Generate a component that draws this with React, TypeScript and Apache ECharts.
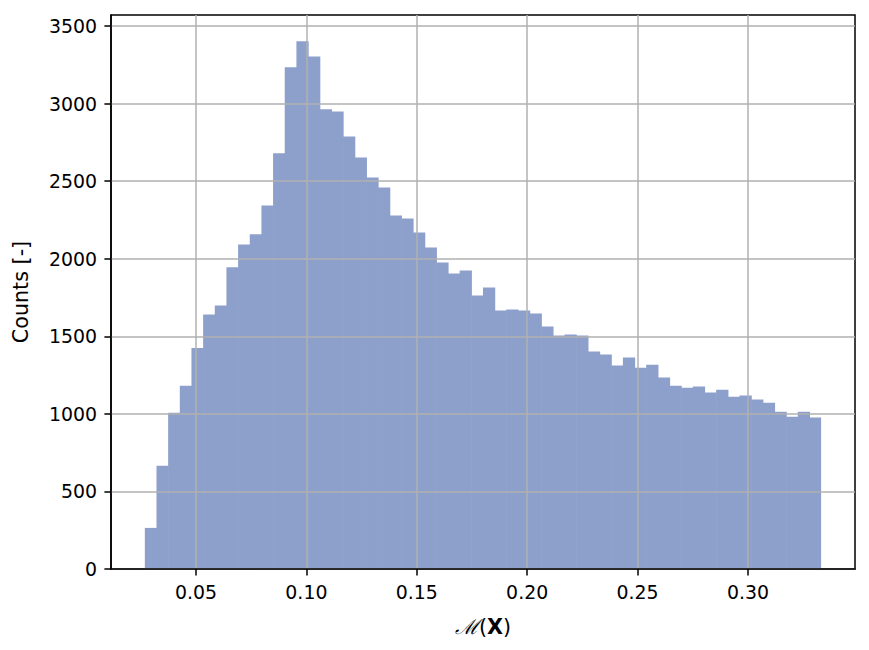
import React, { useEffect, useRef } from "react";
import * as echarts from "echarts";

// Histogram counts per bin (58 equal-width bins)
const counts: number[] = [
  265, 666, 1007, 1182, 1424, 1641, 1698, 1945, 2092, 2157,
  2343, 2680, 3235, 3401, 3304, 2963, 2949, 2788, 2652, 2523,
  2459, 2279, 2259, 2169, 2072, 1975, 1905, 1924, 1763, 1814,
  1666, 1672, 1666, 1647, 1563, 1505, 1511, 1505, 1402, 1382,
  1311, 1363, 1298, 1317, 1234, 1182, 1169, 1176, 1137, 1156,
  1111, 1118, 1092, 1072, 1014, 982, 1014, 976,
];
const binStart = 0.02682;
const binEnd = 0.33315;

const xTicks: number[] = [0.05, 0.1, 0.15, 0.2, 0.25, 0.3];
const yTicks: number[] = [0, 500, 1000, 1500, 2000, 2500, 3000, 3500];
const xRange: number[] = [0.0115, 0.3485];
const yRange: number[] = [0, 3571];

const xLabel = "{m|ℳ}{p|(}{b|X}{p|)}";
const yLabel = "Counts [-]";

const BAR_COLOR = "#8da0cb";
const FONT = "DejaVu Sans";
const FS = 18.9;
const FS_NAME = 20.7;

export default function App() {
  const ref = useRef<HTMLDivElement>(null);
  useEffect(() => {
    if (!ref.current) return;
    const chart = echarts.init(ref.current, null, { renderer: "svg" });
    const w = (binEnd - binStart) / counts.length;
    const data = counts.map((c, i) => [binStart + i * w, binStart + (i + 1) * w, c]);
    chart.setOption({
      animation: false,
      backgroundColor: "#ffffff",
      textStyle: { fontFamily: FONT },
      grid: {
        left: 111,
        right: 14,
        top: 15,
        bottom: 81,
        show: true,
        borderColor: "#000",
        borderWidth: 1.5,
        backgroundColor: "transparent",
      },
      xAxis: {
        type: "value",
        min: xRange[0],
        max: xRange[1],
        z: 5,
        name: xLabel,
        nameLocation: "middle",
        nameGap: 47,
        nameTextStyle: {
          color: "#000",
          fontSize: FS_NAME,
          fontFamily: FONT,
          rich: {
            m: { fontFamily: "DejaVu Serif", fontSize: FS_NAME, fontStyle: "italic", color: "#000" },
            p: { fontFamily: FONT, fontSize: FS_NAME, color: "#000" },
            b: { fontFamily: FONT, fontSize: FS_NAME, fontWeight: "bold", color: "#000" },
          },
        },
        axisLine: { show: true, onZero: false, lineStyle: { color: "#000", width: 1.5 } },
        axisTick: { show: true, length: 6.6, customValues: xTicks, lineStyle: { color: "#000", width: 1.5 } },
        axisLabel: {
          customValues: xTicks,
          margin: 13,
          color: "#000",
          fontSize: FS,
          fontFamily: FONT,
          formatter: (v: number) => v.toFixed(2),
        },
        splitLine: { show: true, lineStyle: { color: "#b0b0b0", width: 1.5 } },
      },
      yAxis: {
        type: "value",
        min: yRange[0],
        max: yRange[1],
        z: 5,
        name: yLabel,
        nameLocation: "middle",
        nameGap: 80,
        nameTextStyle: { color: "#000", fontSize: FS_NAME, fontFamily: FONT },
        axisLine: { show: true, onZero: false, lineStyle: { color: "#000", width: 1.5 } },
        axisTick: { show: true, length: 6.6, customValues: yTicks, lineStyle: { color: "#000", width: 1.5 } },
        axisLabel: {
          customValues: yTicks,
          margin: 14,
          color: "#000",
          fontSize: FS,
          fontFamily: FONT,
          formatter: (v: number) => String(Math.round(v)),
        },
        splitLine: { show: true, lineStyle: { color: "#b0b0b0", width: 1.5 } },
      },
      series: [
        {
          type: "custom",
          z: 2,
          data,
          encode: { x: [0, 1], y: 2 },
          renderItem: (params: any, api: any) => {
            const x0 = api.value(0);
            const x1 = api.value(1);
            const c = api.value(2);
            const p0 = api.coord([x0, c]);
            const p1 = api.coord([x1, 0]);
            const last = params.dataIndex === counts.length - 1;
            return {
              type: "rect",
              shape: {
                x: p0[0],
                y: p0[1],
                width: p1[0] - p0[0] + (last ? 0 : 0.6),
                height: p1[1] - p0[1],
              },
              style: { fill: BAR_COLOR },
            };
          },
        },
      ],
    });
    return () => chart.dispose();
  }, []);
  return (
    <div
      ref={ref}
      style={{ position: "fixed", left: 0, top: 0, width: 869, height: 650 }}
    />
  );
}
